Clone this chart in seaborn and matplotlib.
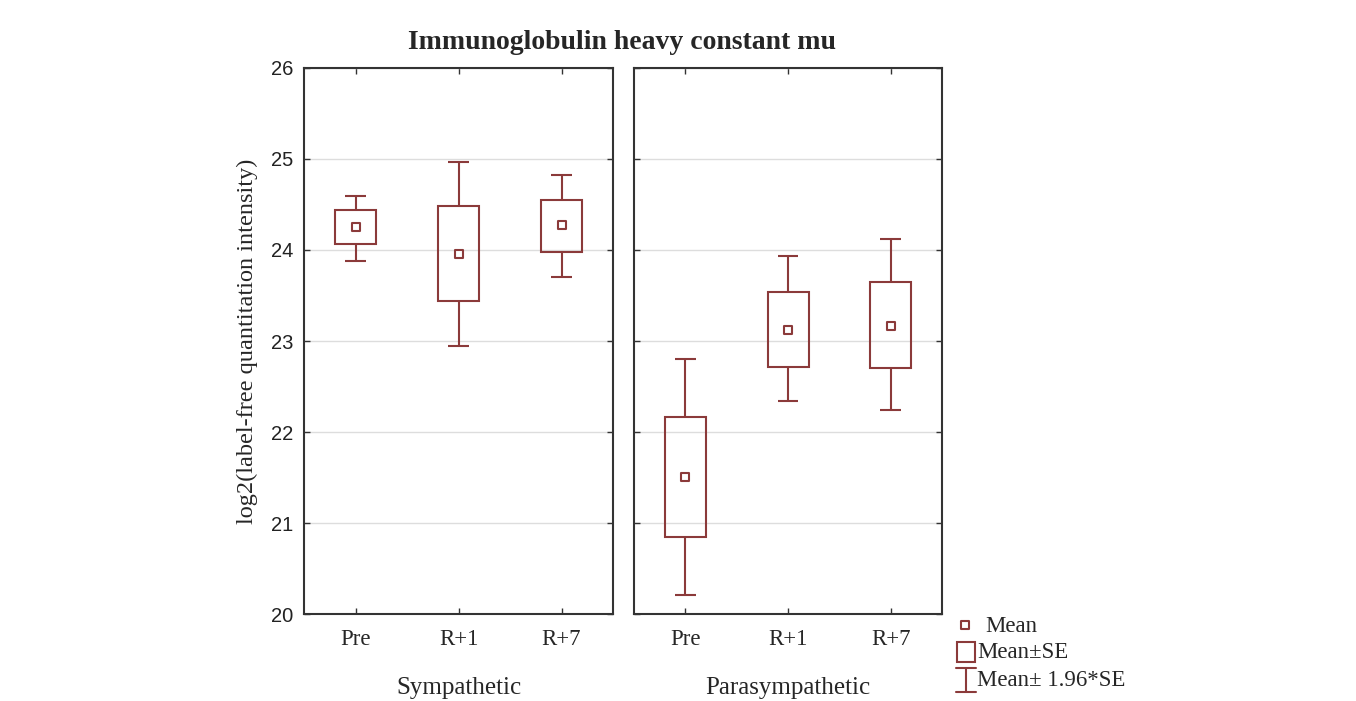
import numpy as np
import pandas as pd
import matplotlib
matplotlib.use("Agg")
import matplotlib.pyplot as plt
import seaborn as sns

# values (log2 intensity)
groups = ["Sympathetic", "Parasympathetic"]
timepoints = ["Pre", "R+1", "R+7"]
means = [[24.25, 23.96, 24.27], [21.51, 23.12, 23.16]]
se_low = [[24.07, 23.44, 23.98], [20.85, 22.71, 22.70]]
se_high = [[24.44, 24.48, 24.55], [22.16, 23.54, 23.65]]
ci_low = [[23.88, 22.95, 23.70], [20.21, 22.34, 22.24]]
ci_high = [[24.59, 24.97, 24.82], [22.80, 23.93, 24.12]]

color = "#8b3a3a"
serif = ["Liberation Serif", "DejaVu Serif"]
sans = ["Liberation Sans", "DejaVu Sans"]

sns.set_style("white")
plt.rcParams["font.family"] = serif

fig = plt.figure(figsize=(13.56, 7.01), dpi=100)
axes = [fig.add_axes([0.2242, 0.1241, 0.2279, 0.7789]),
        fig.add_axes([0.4676, 0.1241, 0.2271, 0.7789])]

for i, ax in enumerate(axes):
    df = pd.DataFrame({
        "time": timepoints,
        "mean": means[i],
        "se_lo": se_low[i],
        "se_hi": se_high[i],
        "ci_lo": ci_low[i],
        "ci_hi": ci_high[i],
    })
    x = np.arange(len(df))
    ax.set_axisbelow(True)
    ax.yaxis.grid(True, color="#dddddd", lw=1.0)
    # Mean +- SE boxes
    ax.bar(x, df["se_hi"] - df["se_lo"], bottom=df["se_lo"], width=0.4,
           fill=False, edgecolor=color, lw=1.5, zorder=3)
    # whiskers Mean +- 1.96*SE
    ax.vlines(x, df["se_hi"], df["ci_hi"], color=color, lw=1.5, zorder=3)
    ax.vlines(x, df["ci_lo"], df["se_lo"], color=color, lw=1.5, zorder=3)
    ax.hlines(df["ci_hi"], x - 0.1, x + 0.1, color=color, lw=1.5, zorder=3)
    ax.hlines(df["ci_lo"], x - 0.1, x + 0.1, color=color, lw=1.5, zorder=3)
    # means
    sns.scatterplot(x=x, y=df["mean"], ax=ax, marker="s", s=40,
                    facecolor="white", edgecolor=color, linewidth=1.5,
                    zorder=4, legend=False)

    ax.set_xlim(-0.5, 2.5)
    ax.set_ylim(20, 26)
    ax.set_xticks(x)
    ax.set_xticklabels(timepoints, fontsize=16.5, family=serif)
    ax.set_yticks(range(20, 27))
    ax.tick_params(axis="both", direction="in", length=4, width=1,
                   top=True, right=True, left=True, bottom=True,
                   color="#333333", pad=11)
    ax.tick_params(axis="y", pad=8)
    ax.set_xlabel(groups[i], fontsize=18, labelpad=19, family=serif)
    ax.set_ylabel("")
    for sp in ax.spines.values():
        sp.set_color("#333333")
        sp.set_linewidth(1.5)
    if i == 0:
        for lab in ax.get_yticklabels():
            lab.set_family(sans)
            lab.set_fontsize(14.5)
            lab.set_color("#222222")
        ax.set_ylabel("log2(label-free quantitation intensity)", fontsize=17.5,
                      family=serif, labelpad=9)
    else:
        ax.set_yticklabels([])

fig.text(0.459, 0.939, "Immunoglobulin heavy constant mu", ha="center",
         va="center", fontsize=20, fontweight="bold", family=serif)

# legend drawn in its own small axes, in pixel units
lax = fig.add_axes([940 / 1356, 0, 220 / 1356, 91 / 701])
lax.set_xlim(940, 1160)
lax.set_ylim(701, 610)
lax.axis("off")
lax.scatter([965], [625], marker="s", s=28, facecolor="white",
            edgecolor=color, linewidths=1.5)
lax.add_patch(plt.Rectangle((957, 642), 18, 20, fill=False,
                            edgecolor=color, lw=1.5))
lax.plot([966, 966], [668, 692], color=color, lw=1.5)
lax.plot([956, 976], [668, 668], color=color, lw=1.5)
lax.plot([956, 976], [692, 692], color=color, lw=1.5)
lax.text(985, 627, "Mean", fontsize=16.5, va="center", family=serif)
lax.text(977, 653, "Mean\u00b1SE", fontsize=16.5, va="center", family=serif)
lax.text(977, 680, "Mean\u00b1 1.96*SE", fontsize=16.5, va="center", family=serif)

fig.savefig("out.png", dpi=100)
